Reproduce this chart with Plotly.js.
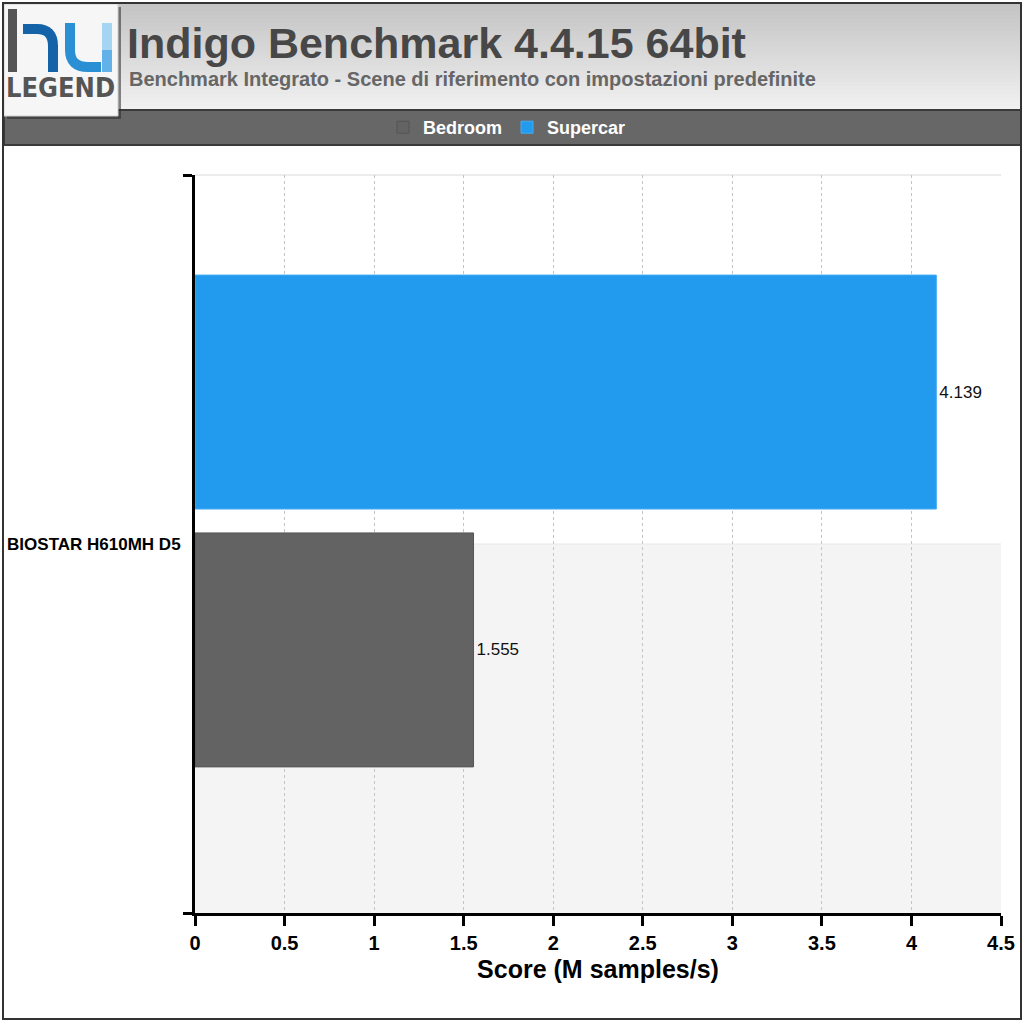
<!DOCTYPE html>
<html>
<head>
<meta charset="utf-8">
<script src="https://cdn.plot.ly/plotly-3.0.1.min.js"></script>
<style>html,body{margin:0;padding:0;background:#fff}#chart{width:1024px;height:1021px}</style>
</head>
<body>
<div id="chart"></div>
<script>
// ---- data ----
const categories = ["BIOSTAR H610MH D5"];
const seriesNames = ["Bedroom", "Supercar"];
const bedroomValues = [1.555];
const supercarValues = [4.139];
const xTickValues = [0, 0.5, 1, 1.5, 2, 2.5, 3, 3.5, 4, 4.5];
const titleText = "Indigo Benchmark 4.4.15 64bit";
const subtitleText = "Benchmark Integrato - Scene di riferimento con impostazioni predefinite";
const xTitle = "Score (M samples/s)";

// ---- layout helpers (pixel -> paper) ----
const W = 1024, H = 1021;
const L = 195, R = 1001, T = 175, B = 913;
const X = px => (px - L) / (R - L);
const Y = py => (B - py) / (B - T);
function rect(x0, y0, x1, y1, fill, line, lw, layer) {
  return {type: 'rect', xref: 'paper', yref: 'paper', x0: X(x0), x1: X(x1), y0: Y(y1), y1: Y(y0),
    fillcolor: fill, line: {color: line || 'rgba(0,0,0,0)', width: lw || 0}, layer: layer || 'above'};
}
function pathPx(cmds, color, width) {
  let s = '';
  cmds.forEach(c => {
    s += c[0];
    for (let i = 1; i < c.length; i += 2) {
      s += X(c[i]).toFixed(5) + ',' + Y(c[i + 1]).toFixed(5) + ' ';
    }
  });
  return {type: 'path', xref: 'paper', yref: 'paper', path: s.trim(), line: {color: color, width: width}, layer: 'above'};
}

const shapes = [];
// plot background halves
shapes.push(rect(L, T, R, (T + B) / 2, '#ffffff', null, 0, 'below'));
shapes.push(rect(L, (T + B) / 2, R, B, '#f4f4f4', null, 0, 'below'));
shapes.push({type: 'line', xref: 'paper', yref: 'paper', x0: 0, x1: 1, y0: 1, y1: 1, line: {color: '#ececec', width: 2}, layer: 'below'});
shapes.push({type: 'line', xref: 'paper', yref: 'paper', x0: 0, x1: 1, y0: 0.5, y1: 0.5, line: {color: '#e6e6e6', width: 1}, layer: 'below'});
// header gradient
const hTop = 3, hBot = 110, nStrips = 27;
for (let i = 0; i < nStrips; i++) {
  const y0 = hTop + (hBot - hTop) * i / nStrips;
  const y1 = hTop + (hBot - hTop) * (i + 1) / nStrips + 0.6;
  const t = i / (nStrips - 1);
  const v = Math.round(196 + (240 - 196) * t);
  shapes.push(rect(3, y0, 1021, y1, `rgb(${v},${v},${v})`, null, 0, 'above'));
}
shapes.push({type: 'line', xref: 'paper', yref: 'paper', x0: X(3), x1: X(1021), y0: Y(3.5), y1: Y(3.5), line: {color: '#9a9a9a', width: 1}, layer: 'above'});
// legend bar
shapes.push(rect(4, 110, 1021, 145, '#676767', '#3a3a3a', 2, 'above'));
// logo
shapes.push(rect(7, 7, 121, 119, 'rgba(40,40,40,0.55)', null, 0, 'above'));
shapes.push(rect(4, 4, 118, 116, '#f6f6f6', '#d0d0d0', 1, 'above'));
shapes.push(rect(8, 9, 17, 72, '#555555', null, 0, 'above'));
shapes.push(pathPx([['M', 23, 29], ['L', 37, 29], ['Q', 53, 29, 53, 46], ['L', 53, 72]], '#1463a8', 10));
shapes.push(pathPx([['M', 70, 23], ['L', 70, 50], ['Q', 70, 67, 88, 67], ['L', 101, 67]], '#2b8fd3', 10));
shapes.push(pathPx([['M', 107, 23], ['L', 107, 72]], '#a6d4f3', 10));
shapes.push(pathPx([['M', 107, 50], ['L', 107, 72]], '#62b2e9', 10));
// outer frame
shapes.push(rect(3, 3, 1021, 1019, 'rgba(0,0,0,0)', '#333333', 2, 'above'));

const annotations = [
  {text: subtitleText, xref: 'paper', yref: 'paper', x: X(127), y: Y(79), xanchor: 'left', yanchor: 'middle',
   showarrow: false, font: {family: 'Liberation Sans, Arial, sans-serif', size: 20, color: '#666666', weight: 'bold'}},
  {text: 'LEGEND', xref: 'paper', yref: 'paper', x: X(60), y: Y(88), xanchor: 'center', yanchor: 'middle',
   showarrow: false, font: {family: 'DejaVu Sans Condensed, sans-serif', size: 27, color: '#555555', weight: 'bold'}}
];

const barWidth = 0.317;
const traces = [
  {type: 'bar', orientation: 'h', name: seriesNames[0], y: categories, x: bedroomValues,
   width: barWidth, offset: -0.302,
   marker: {color: '#636363', line: {color: '#555555', width: 1}},
   text: bedroomValues.map(v => v.toFixed(3)), textposition: 'outside', cliponaxis: false,
   textfont: {family: 'Liberation Sans, Arial, sans-serif', size: 17, color: '#111111'}, hoverinfo: 'x+name'},
  {type: 'bar', orientation: 'h', name: seriesNames[1], y: categories, x: supercarValues,
   width: barWidth, offset: 0.0474,
   marker: {color: '#229bee', line: {color: '#44acf5', width: 1}},
   text: supercarValues.map(v => v.toFixed(3)), textposition: 'outside', cliponaxis: false,
   textfont: {family: 'Liberation Sans, Arial, sans-serif', size: 17, color: '#111111'}, hoverinfo: 'x+name'}
];

const layout = {
  width: W, height: H,
  margin: {l: L, r: W - R, t: T, b: H - B, pad: 0},
  paper_bgcolor: '#ffffff', plot_bgcolor: 'rgba(0,0,0,0)',
  font: {family: 'Liberation Sans, Arial, sans-serif', color: '#000'},
  title: {text: titleText, xref: 'container', yref: 'container', x: 127 / W, xanchor: 'left', y: 1 - 43 / H, yanchor: 'middle',
    font: {family: 'Liberation Sans, Arial, sans-serif', size: 43, color: '#474747', weight: 'bold'}},
  barmode: 'overlay',
  showlegend: true,
  legend: {orientation: 'h', x: X(507), xanchor: 'center', y: Y(127.5), yanchor: 'middle', bgcolor: 'rgba(0,0,0,0)',
    font: {family: 'Liberation Sans, Arial, sans-serif', size: 18, color: '#ffffff', weight: 'bold'}, traceorder: 'normal'},
  xaxis: {range: [0, 4.5], tickvals: xTickValues, ticktext: xTickValues.map(v => String(v)),
    showgrid: true, gridcolor: '#c4c4c4', griddash: 'dot', gridwidth: 1, zeroline: false,
    showline: true, linecolor: '#000', linewidth: 3, ticks: 'outside', ticklen: 10, tickwidth: 3, tickcolor: '#000',
    tickfont: {size: 20, weight: 'bold', color: '#000'},
    title: {text: xTitle, standoff: 8, font: {size: 25, weight: 'bold', color: '#000'}}, fixedrange: true},
  yaxis: {type: 'category', range: [-0.5, 0.5], showgrid: false, zeroline: false, showline: true, linecolor: '#000', linewidth: 3,
    ticks: 'outside', tickson: 'boundaries', ticklen: 9, tickwidth: 3, tickcolor: '#000', ticklabelstandoff: 8,
    tickfont: {size: 17, weight: 'bold', color: '#000'}, fixedrange: true},
  shapes: shapes,
  annotations: annotations
};

Plotly.newPlot('chart', traces, layout, {displayModeBar: false, staticPlot: true});
</script>
</body>
</html>
